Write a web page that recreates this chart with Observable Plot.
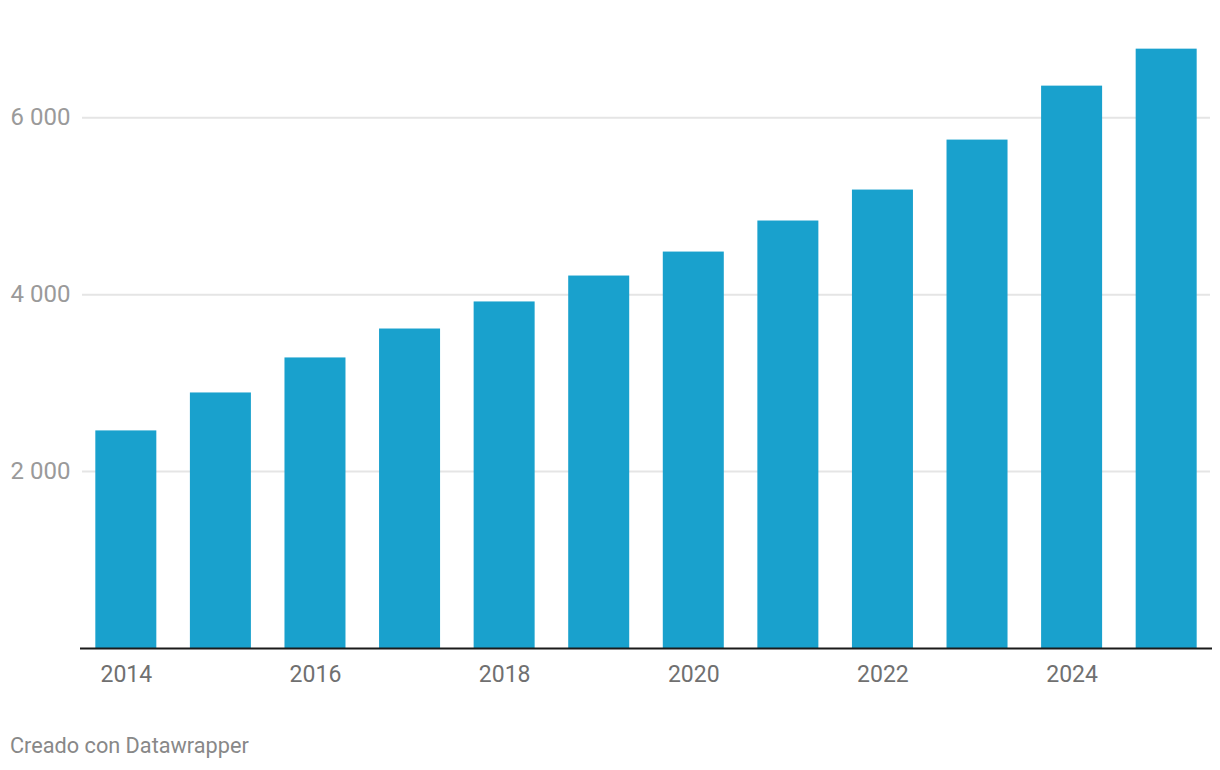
<!DOCTYPE html>
<html>
<head>
<meta charset="utf-8">
<script src="https://cdn.jsdelivr.net/npm/d3@7"></script>
<script src="https://cdn.jsdelivr.net/npm/@observablehq/plot@0.6"></script>
<style>
  html, body { margin: 0; padding: 0; background: #fff; }
  body { width: 1220px; height: 770px; position: relative; font-family: Roboto, sans-serif; }
  #chart { position: absolute; left: 0; top: 0; }
  #footer { position: absolute; left: 10px; top: 733px; font-size: 21.7px; color: #888; font-family: Roboto, sans-serif; }
</style>
</head>
<body>
<div id="chart"></div>
<div id="footer">Creado con Datawrapper</div>
<script>
const years = [2014, 2015, 2016, 2017, 2018, 2019, 2020, 2021, 2022, 2023, 2024, 2025];
const values = [2460, 2889, 3285, 3612, 3918, 4211, 4482, 4833, 5183, 5748, 6358, 6776];
const yTicks = [2000, 4000, 6000];
const xTicks = [2014, 2016, 2018, 2020, 2022, 2024];

const data = years.map((y, i) => ({year: y, value: values[i]}));
const fmt = d => String(d).replace(/\B(?=(\d{3})+(?!\d))/g, " ");

const chart = Plot.plot({
  width: 1220,
  height: 698,
  marginLeft: 80,
  marginRight: 8,
  marginTop: 20,
  marginBottom: 50,
  style: {fontFamily: "Roboto, sans-serif", fontSize: "23px", background: "#fff"},
  x: {type: "band", domain: years, paddingInner: 0.355, paddingOuter: 0.162, round: false},
  y: {domain: [0, 7100]},
  marks: [
    Plot.ruleY(yTicks, {stroke: "#e5e5e5", strokeWidth: 2, insetLeft: 2, insetRight: 2}),
    Plot.barY(data, {x: "year", y: "value", fill: "#19a1cd"}),
    Plot.ruleY([0], {stroke: "#1a1a1a", strokeWidth: 2}),
    Plot.axisY({ticks: yTicks, tickFormat: fmt, tickSize: 0, tickPadding: 0, textAnchor: "start", dx: -70, fill: "#9a9a9a", fontSize: 24, label: null}),
    Plot.axisX({ticks: xTicks, tickFormat: d => String(d), tickSize: 0, tickPadding: 17, fill: "#707070", label: null})
  ]
});
document.getElementById("chart").appendChild(chart);
</script>
</body>
</html>
